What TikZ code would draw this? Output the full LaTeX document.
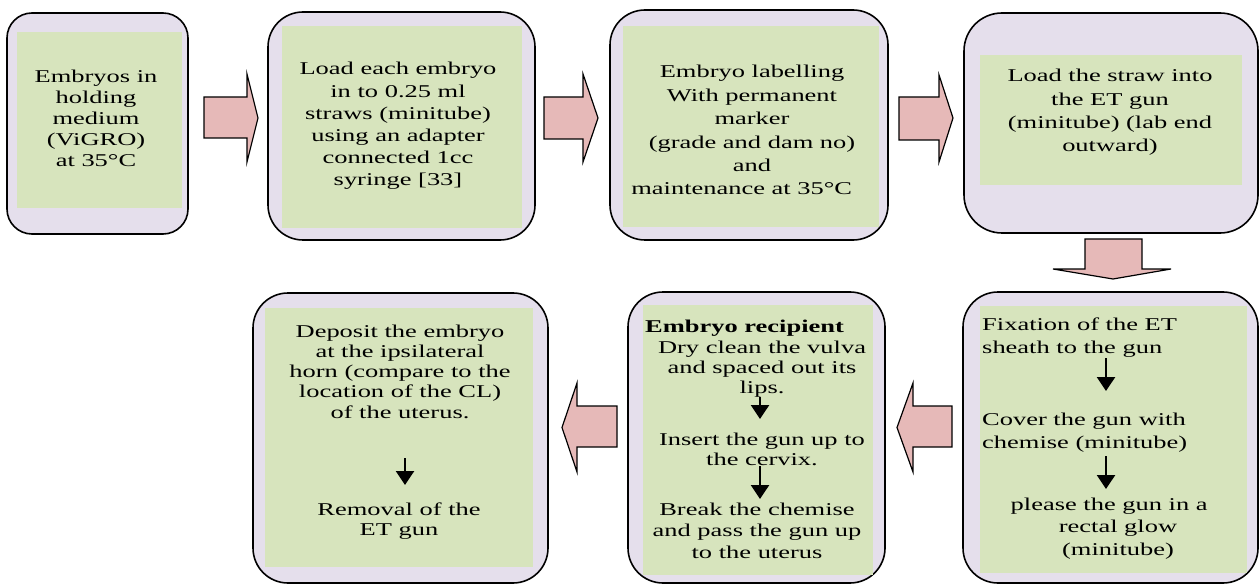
\documentclass[tikz,border=0pt]{standalone}
\usepackage{fontspec}
\setmainfont{Liberation Serif}
\usepackage{graphicx}
\usetikzlibrary{arrows.meta}
\definecolor{lav}{RGB}{229,223,236}
\definecolor{grn}{RGB}{215,228,189}
\definecolor{pnk}{RGB}{230,185,184}
\newcommand{\tb}[2]{\scalebox{1.47}[1]{\begin{tabular}[t]{@{}#1@{}}#2\end{tabular}}}
\begin{document}
\begin{tikzpicture}[x=1pt,y=-1pt,
  outer/.style={draw=black, line width=1.6pt, fill=lav, rounded corners=#1, inner sep=0pt, outer sep=0pt},
  outer/.default=35pt,
  inner/.style={fill=grn, draw=none, inner sep=0pt, outer sep=0pt},
  txt/.style={inner sep=0pt, anchor=base, font={\fontsize{18}{#1}\selectfont}},
  txtl/.style={inner sep=0pt, anchor=base west, font={\fontsize{18}{#1}\selectfont}},
  blockarrow/.style={draw=black, line width=1.2pt, fill=pnk, line join=miter},
  smallarrow/.style={-{Triangle[length=14pt,width=18pt]}, line width=2.5pt, black}
]
\useasboundingbox (0,0) rectangle (1260,585);
\clip (0,0) rectangle (1260,585);

% ---------- top row boxes ----------
\node[outer=25pt, minimum width=181pt, minimum height=221pt] (b1) at (97.5,123.5) {};
\node[inner, minimum width=165pt, minimum height=176pt] (g1) at (99.5,120) {};
\node[outer, minimum width=267pt, minimum height=228pt] (b2) at (401.5,126) {};
\node[inner, minimum width=240pt, minimum height=202pt] (g2) at (402,127) {};
\node[outer, minimum width=278pt, minimum height=230pt] (b3) at (749,125) {};
\node[inner, minimum width=256pt, minimum height=201pt] (g3) at (751,126.5) {};
\node[outer=38pt, minimum width=294pt, minimum height=220pt] (b4) at (1111,123) {};
\node[inner, minimum width=262pt, minimum height=130pt] (g4) at (1111,120) {};

% ---------- bottom row boxes ----------
\node[outer, minimum width=295pt, minimum height=291pt] (b6) at (1110.5,437.5) {};
\node[inner, minimum width=267pt, minimum height=267pt] (g6) at (1113.5,439.5) {};
\node[outer, minimum width=257pt, minimum height=291pt] (b5) at (756.5,437.5) {};
\node[inner, minimum width=230pt, minimum height=270pt] (g5) at (758,440) {};
\node[outer, minimum width=295pt, minimum height=290pt] (b7) at (400.5,438) {};
\node[inner, minimum width=268pt, minimum height=259pt] (g7) at (399,437.5) {};

% ---------- block arrows ----------
\draw[blockarrow] (204,97) -- (247,97) -- (247,74) -- (258,118) -- (247,162) -- (247,138) -- (204,138) -- cycle;
\draw[blockarrow] (544,97) -- (583,97) -- (583,74) -- (598,118) -- (583,162) -- (583,139) -- (544,139) -- cycle;
\draw[blockarrow] (899,97) -- (939,97) -- (939,75) -- (953,118) -- (939,162) -- (939,140) -- (899,140) -- cycle;
\draw[blockarrow] (1085,239) -- (1142,239) -- (1142,269) -- (1171,269) -- (1113,279) -- (1053,269) -- (1085,269) -- cycle;
\draw[blockarrow] (952,406) -- (913,406) -- (913,383) -- (897,427.5) -- (913,472) -- (913,447) -- (952,447) -- cycle;
\draw[blockarrow] (617,406) -- (577,406) -- (577,383) -- (562,427.5) -- (577,472) -- (577,447) -- (617,447) -- cycle;

% ---------- texts ----------
\node[txt=21] (t1) at (96,83) {\tb{c}{Embryos in\\holding\\medium\\(ViGRO)\\at 35°C}};
\node[txt=22.2] (t2) at (398,75) {\tb{c}{Load each embryo\\in to 0.25 ml\\straws (minitube)\\using an adapter\\connected 1cc\\syringe [33]}};
\node[txt=23.4] (t3) at (752,78) {\tb{c}{Embryo labelling\\With permanent\\marker\\(grade and dam no)\\and\\maintenance at 35°C\hspace*{14pt}}};
\node[txt=23.3] (t4) at (1110,82) {\tb{c}{Load the straw into\\the ET gun\\(minitube) (lab end\\outward)}};

\node[txtl=23] (t6a) at (982,330) {\tb{l}{Fixation of the ET\\sheath to the gun}};
\node[txtl=23] (t6b) at (982,425) {\tb{l}{Cover the gun with\\chemise (minitube)}};
\node[txt=22.5] (t6c) at (1118,510) {\tb{c}{please the gun in a\hspace*{12pt}\\rectal glow\\(minitube)}};
\coordinate (a6s) at (1106,358);
\coordinate (a6e) at (1106,391);
\coordinate (a6s2) at (1106,456);
\coordinate (a6e2) at (1106,489);
\draw[smallarrow] (a6s) -- (a6e);
\draw[smallarrow] (a6s2) -- (a6e2);

\node[txtl=20] (t5h) at (645,332) {\tb{l}{\bfseries Embryo recipient}};
\node[txt=20] (t5a) at (762,353) {\tb{c}{Dry clean the vulva\\and spaced out its\\lips.}};
\node[txt=20] (t5b) at (762,445) {\tb{c}{Insert the gun up to\\the cervix.}};
\node[txt=21.5] (t5c) at (757,515) {\tb{c}{Break the chemise\\and pass the gun up\\to the uterus}};
\coordinate (a5s) at (760,397);
\coordinate (a5e) at (760,419);
\coordinate (a5s2) at (760,466);
\coordinate (a5e2) at (760,499);
\draw[smallarrow] (a5s) -- (a5e);
\draw[smallarrow] (a5s2) -- (a5e2);

\node[txt=20.25] (t7a) at (400,337) {\tb{c}{Deposit the embryo\\at the ipsilateral\\horn (compare to the\\location of the CL)\\of the uterus.}};
\node[txt=20] (t7b) at (399,515) {\tb{c}{Removal of the\\ET gun}};
\coordinate (a7s) at (405,458);
\coordinate (a7e) at (405,485);
\draw[smallarrow] (a7s) -- (a7e);
\end{tikzpicture}
\end{document}
